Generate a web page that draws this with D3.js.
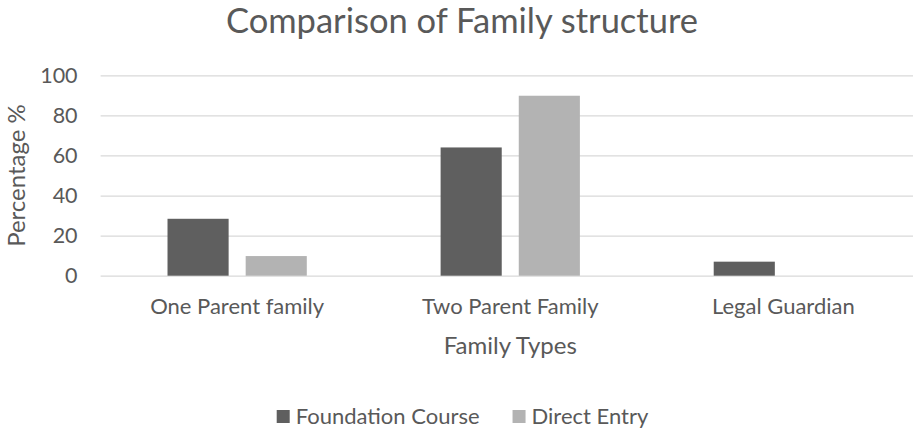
<!DOCTYPE html>
<html>
<meta charset="utf-8">
<style>
    body {
        margin: 0;
        background: #fff;
    }

    text {
        font-family: Lato, "Open Sans", sans-serif;
        fill: #595959;
    }

    .grid line {
        stroke: #d9d9d9;
        stroke-width: 1.3px;
    }

    .grid .domain {
        display: none;
    }
</style>

<body>
    <script src="https://d3js.org/d3.v7.min.js"></script>
    <script>

        var width = 913,
            height = 429;

        // data
        var categories = ["One Parent family", "Two Parent Family", "Legal Guardian"];
        var seriesNames = ["Foundation Course", "Direct Entry"];
        var foundationCourse = [28.4, 64, 7];
        var directEntry = [9.8, 89.8, 0];
        var yTicks = [0, 20, 40, 60, 80, 100];

        var colors = ["#5f5f5f", "#b3b3b3"];
        var series = [foundationCourse, directEntry];

        // plot area (the original chart is a bit wider than the crop)
        var plotLeft = 100.6,
            plotRight = 919.9,
            plotTop = 75.3,
            plotBottom = 275.7;

        var svg = d3.select("body").append("svg")
            .attr("width", width)
            .attr("height", height);

        var x = d3.scaleBand()
            .domain(categories)
            .range([plotLeft, plotRight])
            .paddingInner(0.49)
            .paddingOuter(0.245);

        var xInner = d3.scaleBand()
            .domain(seriesNames)
            .range([0, x.bandwidth()])
            .paddingInner(0.218);

        var y = d3.scaleLinear()
            .domain([0, 100])
            .range([plotBottom, plotTop]);

        var color = d3.scaleOrdinal()
            .domain(seriesNames)
            .range(colors);

        // gridlines + y tick labels
        var yAxis = svg.append("g")
            .attr("class", "grid")
            .attr("transform", "translate(" + plotLeft + ",0)")
            .call(d3.axisLeft(y)
                .tickValues(yTicks)
                .tickSize(-(plotRight - plotLeft))
                .tickPadding(23));

        yAxis.selectAll("text")
            .attr("font-size", "21.5px")
            .attr("fill", "#595959");

        // bars
        var rows = categories.map(function (c, i) {
            return seriesNames.map(function (s, j) {
                return { category: c, series: s, value: series[j][i] };
            });
        });

        svg.append("g")
            .selectAll("g")
            .data(rows)
            .enter().append("g")
            .attr("transform", function (d) { return "translate(" + x(d[0].category) + ",0)"; })
            .selectAll("rect")
            .data(function (d) { return d; })
            .enter().append("rect")
            .attr("x", function (d) { return xInner(d.series); })
            .attr("y", function (d) { return y(d.value); })
            .attr("width", xInner.bandwidth())
            .attr("height", function (d) { return y(0) - y(d.value); })
            .attr("fill", function (d) { return color(d.series); });

        // category labels
        var xAxis = svg.append("g")
            .attr("transform", "translate(0," + plotBottom + ")")
            .call(d3.axisBottom(x).tickSize(0));

        xAxis.select(".domain").remove();
        xAxis.selectAll("text")
            .attr("dy", null)
            .attr("y", 314 - plotBottom)
            .attr("font-size", "22px")
            .attr("fill", "#595959");

        // title
        svg.append("text")
            .attr("x", 462)
            .attr("y", 33)
            .attr("text-anchor", "middle")
            .attr("font-size", "34.5px")
            .text("Comparison of Family structure");

        // axis titles
        svg.append("text")
            .attr("x", (plotLeft + plotRight) / 2)
            .attr("y", 354)
            .attr("text-anchor", "middle")
            .attr("font-size", "24px")
            .text("Family Types");

        svg.append("text")
            .attr("transform", "translate(25," + (plotTop + plotBottom) / 2 + ") rotate(-90)")
            .attr("text-anchor", "middle")
            .attr("font-size", "24px")
            .text("Percentage %");

        // legend
        var legend = svg.append("g");
        var item = legend.selectAll("g")
            .data(seriesNames)
            .enter().append("g");

        item.append("rect")
            .attr("y", 410)
            .attr("width", 13)
            .attr("height", 13)
            .attr("fill", function (d) { return color(d); });

        item.append("text")
            .attr("x", 19)
            .attr("y", 424)
            .attr("font-size", "22px")
            .text(function (d) { return d; });

        var offset = 0;
        item.each(function () {
            var w = 19 + d3.select(this).select("text").node().getComputedTextLength();
            d3.select(this).attr("transform", "translate(" + offset + ",0)");
            offset += w + 33;
        });
        var legendWidth = offset - 33;
        legend.attr("transform", "translate(" + (462.5 - legendWidth / 2) + ",0)");

    </script>

</body>
</html>
